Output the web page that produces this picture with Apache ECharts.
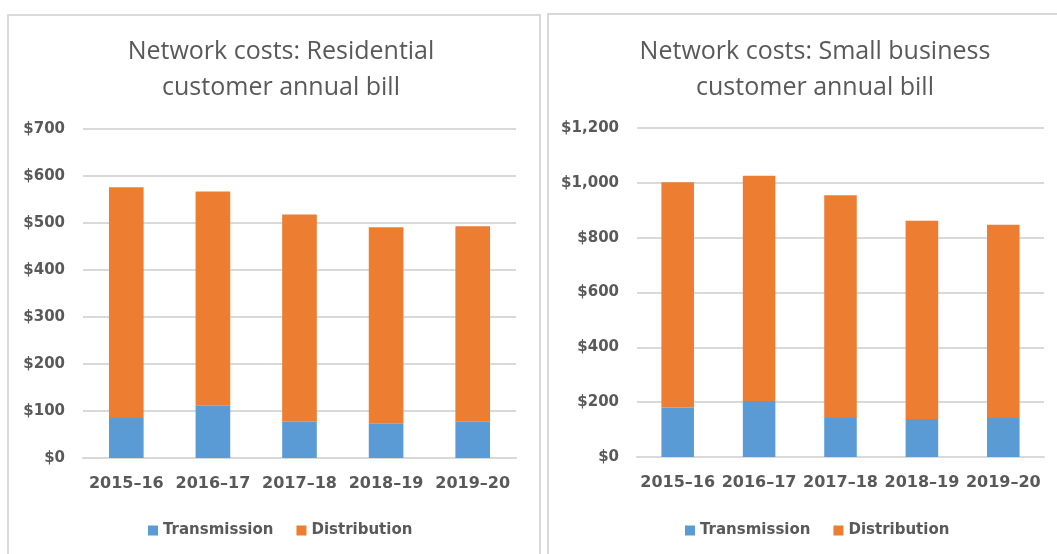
<!DOCTYPE html>
<html>
<head>
<meta charset="utf-8">
<script src="https://cdn.jsdelivr.net/npm/echarts@6/dist/echarts.min.js"></script>
<style>
  html, body { margin: 0; padding: 0; background: #fff; }
  #chart { width: 1057px; height: 554px; }
</style>
</head>
<body>
<div id="chart"></div>
<script>
const years = ['2015–16', '2016–17', '2017–18', '2018–19', '2019–20']

// Residential customer annual bill ($)
const resTransmission = [85, 111, 77, 73, 77]
const resDistribution = [491, 456, 441, 418, 416]

// Small business customer annual bill ($)
const bizTransmission = [181, 204, 142, 139, 142]
const bizDistribution = [821, 822, 813, 723, 705]

const resTitle = 'Network costs: Residential\ncustomer annual bill'
const bizTitle = 'Network costs: Small business\ncustomer annual bill'

const BLUE = '#5B9BD5'
const ORANGE = '#ED7D31'
const TEXT = '#595959'
const GRID = '#d9d9d9'
const TITLE_FONT = '"Open Sans", sans-serif'
const LABEL_FONT = '"DejaVu Sans", sans-serif'

function money(v) {
  return '$' + v.toLocaleString('en-US')
}

const labelStyle = { color: TEXT, fontSize: 15, fontWeight: 'bold', fontFamily: LABEL_FONT }

function xAxisFor(gridIndex) {
  return {
    type: 'category',
    gridIndex: gridIndex,
    data: years,
    axisTick: { show: false },
    axisLine: { lineStyle: { color: GRID, width: 2 } },
    axisLabel: { ...labelStyle, fontSize: 16, interval: 0, margin: 18 },
  }
}

function yAxisFor(gridIndex, max, interval) {
  return {
    type: 'value',
    gridIndex: gridIndex,
    min: 0,
    max: max,
    interval: interval,
    axisLine: { show: false },
    axisTick: { show: false },
    splitLine: { lineStyle: { color: GRID, width: 2 } },
    axisLabel: { ...labelStyle, margin: 18, formatter: money },
  }
}

function titleFor(text, x) {
  return {
    text: text,
    left: x,
    top: 29,
    textAlign: 'center',
    textStyle: { color: TEXT, fontSize: 25, fontWeight: 'normal', lineHeight: 36, fontFamily: TITLE_FONT },
  }
}

function legendFor(x) {
  return {
    data: ['Transmission', 'Distribution'],
    left: x,
    top: 518,
    itemWidth: 10,
    itemHeight: 10,
    itemGap: 23,
    icon: 'rect',
    textStyle: labelStyle,
  }
}

const chart = echarts.init(document.getElementById('chart'))

chart.setOption({
  animation: false,
  title: [titleFor(resTitle, 276), titleFor(bizTitle, 810)],
  legend: [legendFor(143), legendFor(680)],
  grid: [
    { left: 83, right: 541, top: 129, bottom: 96 },
    { left: 637, right: 13, top: 128, bottom: 97 },
  ],
  xAxis: [xAxisFor(0), xAxisFor(1)],
  yAxis: [yAxisFor(0, 700, 100), yAxisFor(1, 1200, 200)],
  series: [
    { name: 'Transmission', type: 'bar', stack: 'res', xAxisIndex: 0, yAxisIndex: 0, barWidth: '40%', itemStyle: { color: BLUE }, data: resTransmission },
    { name: 'Distribution', type: 'bar', stack: 'res', xAxisIndex: 0, yAxisIndex: 0, barWidth: '40%', itemStyle: { color: ORANGE }, data: resDistribution },
    { name: 'Transmission', type: 'bar', stack: 'biz', xAxisIndex: 1, yAxisIndex: 1, barWidth: '40%', itemStyle: { color: BLUE }, data: bizTransmission },
    { name: 'Distribution', type: 'bar', stack: 'biz', xAxisIndex: 1, yAxisIndex: 1, barWidth: '40%', itemStyle: { color: ORANGE }, data: bizDistribution },
  ],
  graphic: [
    // panel frames
    { type: 'rect', shape: { x: 8, y: 15, width: 532, height: 600 }, style: { fill: 'none', stroke: GRID, lineWidth: 2 }, silent: true, z: -1 },
    { type: 'rect', shape: { x: 548, y: 14, width: 540, height: 600 }, style: { fill: 'none', stroke: GRID, lineWidth: 2 }, silent: true, z: -1 },
  ],
})
</script>
</body>
</html>
